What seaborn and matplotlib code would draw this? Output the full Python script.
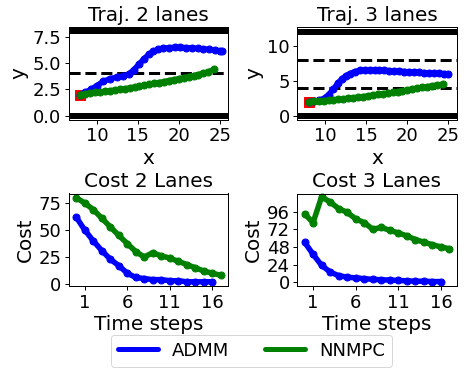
import numpy as np
import pandas as pd
import matplotlib
matplotlib.use("Agg")
import matplotlib.pyplot as plt
import seaborn as sns
from matplotlib.lines import Line2D

# ---------------- data ----------------
traj2_admm_x = [8.0, 8.6, 9.3, 10.0, 10.8, 11.6, 12.4, 13.2, 13.9, 14.5, 15.1, 15.7, 16.3, 16.9,
                17.5, 18.1, 18.8, 19.5, 20.2, 20.9, 21.6, 22.3, 23.0, 23.7, 24.4, 25.0, 25.3]
traj2_admm_y = [2.0, 2.2, 2.5, 2.85, 3.25, 3.5, 3.65, 3.75, 3.95, 4.35, 4.85, 5.35, 5.8, 6.1,
                6.3, 6.4, 6.45, 6.47, 6.47, 6.45, 6.42, 6.38, 6.33, 6.28, 6.22, 6.15, 6.1]
traj2_nn_x = [8.0, 8.6, 9.2, 9.8, 10.4, 11.0, 11.6, 12.2, 12.8, 13.4, 14.0, 14.6, 15.2, 15.8,
              16.4, 17.0, 17.6, 18.2, 18.8, 19.4, 20.0, 20.6, 21.2, 21.8, 22.4, 23.0, 23.6, 24.3]
traj2_nn_y = [2.0, 2.08, 2.14, 2.2, 2.25, 2.3, 2.36, 2.42, 2.48, 2.55, 2.62, 2.7, 2.78, 2.87,
              2.96, 3.05, 3.14, 3.23, 3.32, 3.41, 3.5, 3.6, 3.7, 3.8, 3.9, 4.02, 4.15, 4.4]

traj3_admm_x = [8.0, 8.6, 9.2, 9.8, 10.4, 11.0, 11.5, 12.0, 12.5, 13.0, 13.6, 14.2, 14.8, 15.4,
                16.0, 16.6, 17.2, 17.8, 18.4, 19.0, 19.6, 20.2, 20.8, 21.4, 22.0, 22.6, 23.2,
                23.8, 24.4, 25.0]
traj3_admm_y = [2.0, 2.05, 2.2, 2.45, 3.0, 3.8, 4.6, 5.2, 5.7, 6.0, 6.3, 6.45, 6.5, 6.52,
                6.5, 6.48, 6.45, 6.42, 6.38, 6.35, 6.3, 6.27, 6.22, 6.18, 6.14, 6.1, 6.06,
                6.02, 6.0, 5.98]
traj3_nn_x = [8.0, 8.6, 9.2, 9.8, 10.4, 11.0, 11.6, 12.2, 12.8, 13.4, 14.0, 14.6, 15.2, 15.8,
              16.4, 17.0, 17.6, 18.2, 18.8, 19.4, 20.0, 20.6, 21.2, 21.8, 22.4, 23.0, 23.6, 24.3]
traj3_nn_y = [2.0, 2.05, 2.1, 2.16, 2.22, 2.28, 2.34, 2.4, 2.47, 2.55, 2.64, 2.73, 2.83, 2.93,
              3.03, 3.13, 3.23, 3.33, 3.44, 3.56, 3.68, 3.8, 3.92, 4.03, 4.14, 4.25, 4.36, 4.5]

start_x = [8.0]
start_y = [2.0]

lanes2_solid = [0, 8]
lanes2_dashed = [4]
lanes3_solid = [0, 12]
lanes3_dashed = [4, 8]

cost2_admm = [62, 50, 40, 31, 23, 17, 10, 6, 5, 4, 4, 3, 3, 2, 2, 2, 2]
cost2_nn = [80, 75, 69, 61, 53, 45, 37.5, 30, 25, 29, 26, 24, 21, 18, 15, 12, 10, 8]
cost3_admm = [54.5, 38, 23, 14, 9, 7, 6, 5, 4, 3.5, 3, 2.5, 2, 1.5, 1.5, 1, 1]
cost3_nn = [93, 81, 116, 109, 100, 95, 86, 81, 72, 74.5, 70.5, 67, 63, 58, 54.5, 51, 48, 45.5]

time_ticks = [1, 6, 11, 16]
cost3_yticks = [0, 24, 48, 72, 96]

labels = ["ADMM", "NNMPC"]
colors = ["blue", "green"]

# ---------------- style ----------------
sns.set_style("ticks")
plt.rcParams["font.family"] = ["DejaVu Sans"]
plt.rcParams["xtick.labelsize"] = 18
plt.rcParams["ytick.labelsize"] = 18
plt.rcParams["axes.labelsize"] = 20
plt.rcParams["axes.titlesize"] = 20
plt.rcParams["axes.edgecolor"] = "black"
plt.rcParams["xtick.color"] = "black"
plt.rcParams["ytick.color"] = "black"
plt.rcParams["axes.labelcolor"] = "black"
plt.rcParams["text.color"] = "black"

W, H = 468, 374
fig = plt.figure(figsize=(W / 72, H / 72), dpi=72)


def px_axes(left, top, right, bottom):
    return fig.add_axes([left / W, 1 - bottom / H, (right - left) / W, (bottom - top) / H])


ax_tl = px_axes(69, 27.3, 228, 119.6)
ax_tr = px_axes(297.3, 27.3, 456.7, 119.6)
ax_bl = px_axes(69, 193.5, 228, 286)
ax_br = px_axes(297.3, 193.5, 456.7, 286)

LW = 5.5
MS = 7


def line(ax, x, y, color):
    df = pd.DataFrame({"x": x, "y": y})
    sns.lineplot(data=df, x="x", y="y", ax=ax, color=color, linewidth=LW, marker="o",
                 markersize=MS, markeredgecolor=color, markeredgewidth=1, sort=False,
                 estimator=None)


def traj(ax, solid, dashed, adx, ady, nnx, nny, title):
    for v in solid:
        ax.axhline(v, color="black", linewidth=6)
    for v in dashed:
        ax.axhline(v, color="black", linewidth=3, linestyle="--")
    ax.plot(start_x, start_y, marker="s", color="red", markersize=10, linestyle="none")
    line(ax, adx, ady, colors[0])
    line(ax, nnx, nny, colors[1])
    ax.set_title(title)
    ax.set_xlabel("x")
    ax.set_ylabel("y")
    ax.set_xlim(6.6, 26.0)


traj(ax_tl, lanes2_solid, lanes2_dashed, traj2_admm_x, traj2_admm_y,
     traj2_nn_x, traj2_nn_y, "Traj. 2 lanes")
ax_tl.set_ylim(-0.38, 8.38)
ax_tl.set_yticks([0.0, 2.5, 5.0, 7.5])
ax_tl.set_xticks([10, 15, 20, 25])

traj(ax_tr, lanes3_solid, lanes3_dashed, traj3_admm_x, traj3_admm_y,
     traj3_nn_x, traj3_nn_y, "Traj. 3 lanes")
ax_tr.set_ylim(-0.55, 12.6)
ax_tr.set_yticks([0, 5, 10])
ax_tr.set_xticks([10, 15, 20, 25])


def cost(ax, admm, nn, title):
    line(ax, list(range(len(admm))), admm, colors[0])
    line(ax, list(range(len(nn))), nn, colors[1])
    ax.set_title(title)
    ax.set_xlabel("Time steps")
    ax.set_ylabel("Cost")
    ax.set_xticks(time_ticks)


cost(ax_bl, cost2_admm, cost2_nn, "Cost 2 Lanes")
ax_bl.set_yticks([0, 25, 50, 75])
cost(ax_br, cost3_admm, cost3_nn, "Cost 3 Lanes")
ax_br.set_yticks(cost3_yticks)
ax_br.set_ylim(-5, 120.5)

for ax in (ax_tl, ax_tr, ax_bl, ax_br):
    for s in ax.spines.values():
        s.set_visible(True)
        s.set_linewidth(1)
    ax.tick_params(length=4, width=1)

handles = [Line2D([0], [0], color=c, linewidth=5, marker="o", markersize=3) for c in colors]
fig.legend(handles, labels, loc="upper center", ncol=2, fontsize=18,
           bbox_to_anchor=(251.5 / W, 1 - 325.5 / H), handlelength=2.2,
           columnspacing=2.0, frameon=True)

fig.savefig("out.png", dpi=72)
